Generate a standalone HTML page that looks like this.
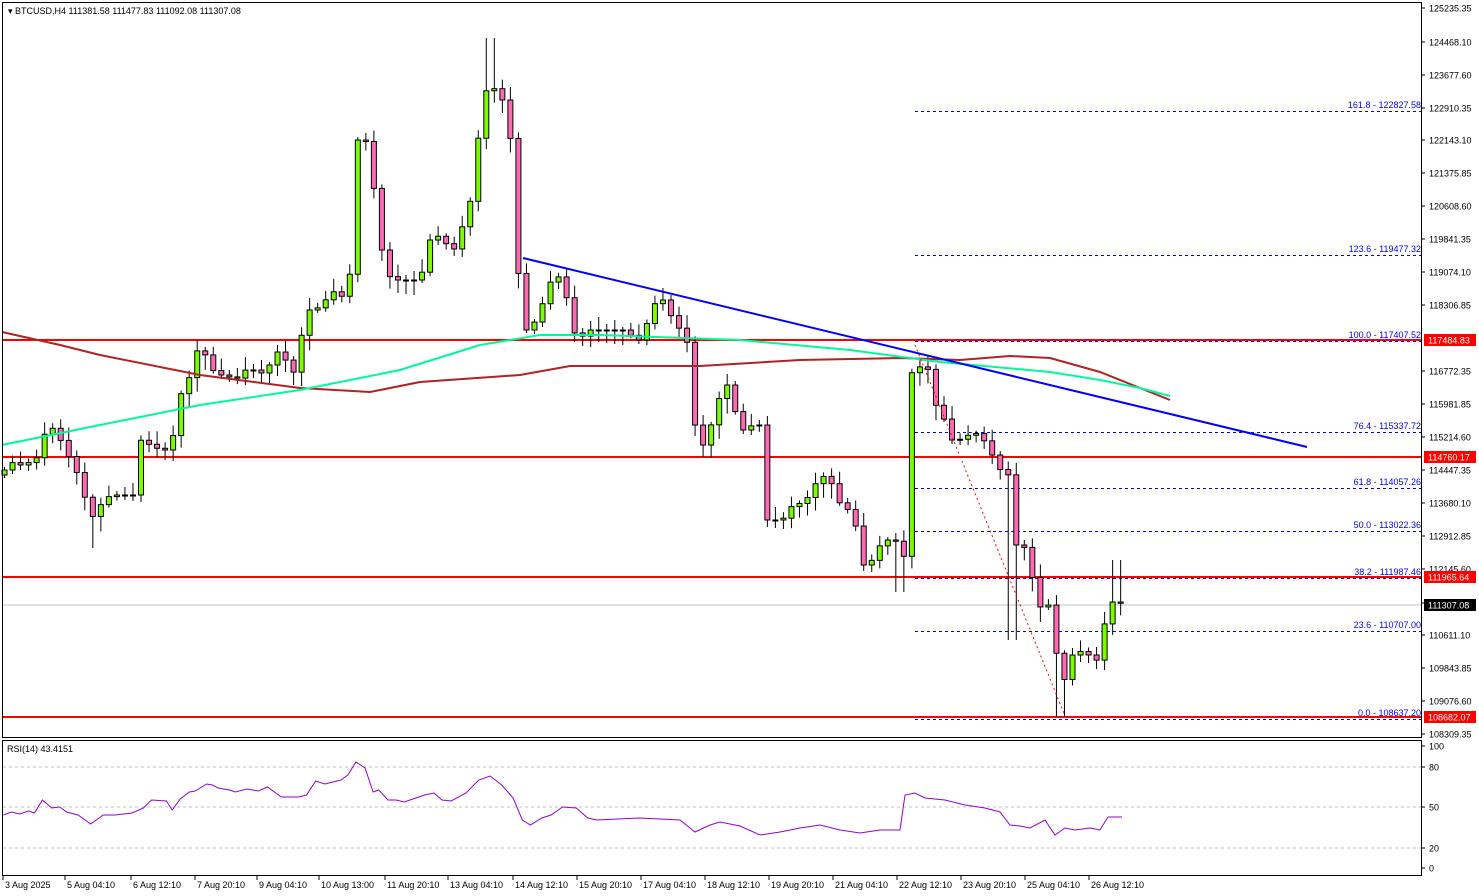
<!DOCTYPE html>
<html><head><meta charset="utf-8">
<style>
html,body{margin:0;padding:0;background:#fff;}
svg{display:block;font-family:"Liberation Sans",Tahoma,sans-serif;}
</style></head>
<body>
<svg id="c" width="1479" height="896" xmlns="http://www.w3.org/2000/svg">
<rect x="0" y="0" width="1479" height="896" fill="#fff"/>
<g id="g"></g>
</svg>
<script>
const NS="http://www.w3.org/2000/svg";
const g=document.getElementById('g');
function el(t,a,txt){const e=document.createElementNS(NS,t);for(const k in a)e.setAttribute(k,a[k]);if(txt!==undefined)e.textContent=txt;g.appendChild(e);return e;}
function poly(pts,stroke,w,dash){el('polyline',{points:pts.map(p=>p.join(',')).join(' '),fill:'none',stroke:stroke,'stroke-width':w,'stroke-dasharray':dash||'none'});}
const P=[[4,470],[10,462],[20,465],[30,462],[40,455],[45,430],[52,428],[60,440],[70,460],[80,480],[90,520],[100,505],[110,495],[125,495],[135,495],[140,440],[150,445],[160,450],[170,450],[180,395],[190,375],[195,350],[205,355],[215,375],[225,375],[235,380],[245,370],[255,370],[265,375],[275,350],[285,360],[295,375],[305,310],[315,310],[325,300],[335,290],[345,300],[350,270],[355,140],[365,140],[372,170],[378,250],[385,250],[390,280],[400,280],[410,280],[420,280],[428,240],[435,240],[442,230],[450,260],[460,230],[468,215],[475,160],[482,105],[490,75],[497,100],[505,100],[512,155],[518,275],[522,330],[530,330],[540,310],[548,285],[555,275],[563,280],[570,320],[578,345],[585,330],[595,330],[605,330],[615,330],[625,330],[635,340],[642,340],[650,310],[657,300],[665,300],[672,320],[680,330],[688,345],[692,410],[698,445],[705,445],[712,420],[718,400],[725,385],[730,385],[738,430],[745,430],[752,425],[760,425],[765,520],[772,520],[780,520],[788,515],[795,495],[802,510],[810,490],[818,480],[825,475],[832,485],[840,505],[848,510],[855,525],[862,565],[868,565],[875,555],[882,540],[888,540],[895,540],[903,570],[908,380],[915,365],[922,368],[930,370],[937,415],[945,420],[950,440],[957,440],[964,438],[972,432],[979,435],[987,445],[994,460],[1000,470],[1008,475],[1012,545],[1020,545],[1028,550],[1035,600],[1042,610],[1048,605],[1052,555],[1058,705],[1065,675],[1072,655],[1078,650],[1085,655],[1092,655],[1100,665],[1106,605],[1112,602],[1118,602],[1123,605]];
function interp(x){for(let i=1;i<P.length;i++){if(x<=P[i][0]){const a=P[i-1],b=P[i];return a[1]+(b[1]-a[1])*(x-a[0])/(b[0]-a[0]);}}return P[P.length-1][1];}
[340,457,577,717].forEach(y=>el('line',{x1:2,x2:1421,y1:y,y2:y,stroke:'#ff0000','stroke-width':2}));
el('line',{x1:2,x2:1421,y1:605,y2:605,stroke:'#c0c0c0','stroke-width':1});
const fib=[[111,'161.8 - 122827.58'],[255,'123.6 - 119477.32'],[341,'100.0 - 117407.52'],[432,'76.4 - 115337.72'],[488,'61.8 - 114057.26'],[531,'50.0 - 113022.36'],[578,'38.2 - 111987.46'],[631,'23.6 - 110707.00'],[719,'0.0 - 108637.20']];
fib.forEach(f=>{el('line',{x1:915,x2:1421,y1:f[0]+.5,y2:f[0]+.5,stroke:'#0000ff','stroke-width':1,'stroke-dasharray':'3,3'});el('text',{x:1421,y:f[0]-3,'font-size':9,fill:'#0000ff','text-anchor':'end'},f[1]);});
let prev=470;const N=140;
for(let i=0;i<N;i++){const x=4+i*8.03;const c=interp(x);const o=(i==0)?475:prev;
 let h=Math.min(o,c)-(3+((i*37)%11)), l=Math.max(o,c)+(3+((i*53)%13));
 if(Math.abs(x-490)<5)h=38; if(Math.abs(x-1060)<5)l=717; if(Math.abs(x-1116)<5)h=560; if(Math.abs(x-90)<5)l=548; if(Math.abs(x-900)<5)l=592; if(Math.abs(x-1012)<5)l=640;
 el('line',{x1:x+.5,x2:x+.5,y1:h,y2:l,stroke:'#000','stroke-width':1});
 const top=Math.min(o,c),bh=Math.max(Math.abs(o-c),1);
 el('rect',{x:x-2,y:top,width:5,height:bh,fill:c<o?'#7cfc00':'#ff69b4',stroke:'#000','stroke-width':1});
 prev=c;}
poly([[2,332],[60,345],[100,355],[200,375],[300,388],[370,392],[420,382],[520,375],[570,366],[700,366],[800,360],[900,358],[960,360],[1010,356],[1050,358],[1100,372],[1140,388],[1170,400]],'#b22222',2);
poly([[2,445],[100,425],[200,405],[300,390],[400,370],[480,345],[540,335],[600,335],[740,340],[850,350],[940,362],[1050,372],[1100,380],[1140,388],[1170,396]],'#00fa9a',2);
el('line',{x1:523,y1:258,x2:1307,y2:447,stroke:'#0000ff','stroke-width':2});
el('line',{x1:915,y1:345,x2:1065,y2:716,stroke:'#ff0000','stroke-width':1,'stroke-dasharray':'2,3'});
el('rect',{x:2.5,y:2.5,width:1419,height:735,fill:'none',stroke:'#000'});
el('rect',{x:2.5,y:740.5,width:1419,height:135,fill:'none',stroke:'#000'});
el('text',{x:8,y:14,'font-size':9,fill:'#000'},'▾ BTCUSD,H4  111381.58 111477.83 111092.08 111307.08');
const ax=[[8,'125235.35'],[42,'124468.10'],[75,'123677.60'],[108,'122910.35'],[140,'122143.10'],[173,'121375.85'],[206,'120608.60'],[239,'119841.35'],[272,'119074.10'],[305,'118306.85'],[371,'116772.35'],[404,'115981.85'],[437,'115214.60'],[470,'114447.35'],[503,'113680.10'],[536,'112912.85'],[569,'112145.60'],[603,'111378.35'],[635,'110611.10'],[668,'109843.85'],[701,'109076.60'],[734,'108309.35']];
ax.forEach(a=>{el('line',{x1:1421,x2:1425,y1:a[0],y2:a[0],stroke:'#000'});el('text',{x:1429,y:a[0]+3.5,'font-size':9,fill:'#000'},a[1]);});
[[340,'117484.83','#ff0000'],[457,'114760.17','#ff0000'],[577,'111965.64','#ff0000'],[605,'111307.08','#000'],[717,'108682.07','#ff0000']].forEach(b=>{el('rect',{x:1424,y:b[0]-6,width:52,height:12,fill:b[2]});el('text',{x:1428,y:b[0]+3.5,'font-size':9,fill:'#fff'},b[1]);});
el('text',{x:7,y:752,'font-size':9,fill:'#000'},'RSI(14) 43.4151');
[767,807,848].forEach(y=>el('line',{x1:3,x2:1421,y1:y,y2:y,stroke:'#c0c0c0','stroke-dasharray':'3,3'}));
[[746,'100'],[767,'80'],[807,'50'],[848,'20'],[868,'0']].forEach(a=>{el('line',{x1:1421,x2:1425,y1:a[0],y2:a[0],stroke:'#000'});el('text',{x:1429,y:a[0]+3.5,'font-size':9,fill:'#000'},a[1]);});
let R=[[3,815],[10,812],[17,814],[25,811],[30,813],[37,800],[45,808],[52,807],[58,812],[68,815],[79,824],[90,815],[100,815],[115,813],[125,808],[132,800],[145,801],[150,810],[157,799],[165,792],[170,791],[180,784],[185,785],[190,788],[200,790],[205,792],[215,789],[225,791],[233,787],[245,797],[260,797],[267,795],[275,781],[283,784],[297,780],[303,775],[310,762],[318,768],[325,792],[330,790],[338,800],[345,800],[352,802],[370,795],[378,793],[385,800],[393,801],[406,793],[417,780],[427,776],[437,785],[447,798],[455,820],[462,825],[472,818],[480,815],[490,807],[502,808],[512,818],[520,820]].map(p=>[p[0]*1.148,p[1]]);
R=R.concat([[640,818],[680,820],[695,832],[710,825],[720,822],[740,826],[760,835],[780,832],[800,828],[820,825],[840,830],[860,833],[880,830],[900,830],[905,795],[915,793],[925,798],[945,800],[965,805],[985,808],[1000,812],[1010,825],[1020,826],[1030,828],[1045,820],[1055,835],[1065,828],[1075,830],[1090,828],[1100,830],[1108,817],[1122,817]]);
poly(R,'#9400d3',1);
const tl=[[4,'3 Aug 2025'],[66,'5 Aug 04:10'],[132,'6 Aug 12:10'],[196,'7 Aug 20:10'],[258,'9 Aug 04:10'],[320,'10 Aug 13:00'],[386,'11 Aug 20:10'],[449,'13 Aug 04:10'],[514,'14 Aug 12:10'],[578,'15 Aug 20:10'],[642,'17 Aug 04:10'],[706,'18 Aug 12:10'],[770,'19 Aug 20:10'],[834,'21 Aug 04:10'],[898,'22 Aug 12:10'],[962,'23 Aug 20:10'],[1026,'25 Aug 04:10'],[1090,'26 Aug 12:10']];
tl.forEach(t=>{el('line',{x1:t[0]-1,x2:t[0]-1,y1:876,y2:880,stroke:'#000'});el('text',{x:t[0]+1,y:888,'font-size':9,fill:'#000'},t[1]);});
</script>
</body></html>
